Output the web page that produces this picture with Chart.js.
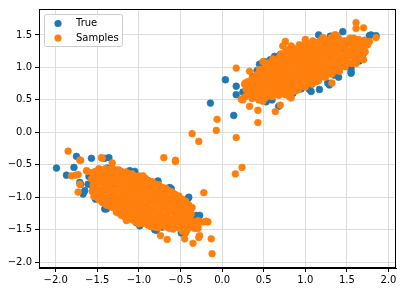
<!DOCTYPE html>
<html>
<head>
<meta charset="utf-8">
<script src="https://cdn.jsdelivr.net/npm/chart.js@4"></script>
<style>
  html, body { margin: 0; padding: 0; background: #fff; }
  canvas { display: block; }
</style>
</head>
<body>
<canvas id="scatterChart" width="404" height="292" style="width:404px;height:292px"></canvas>
<script>
// Values, as [x, y]
const trueUpper = [
    [0.04,0.81],[-0.14,0.45],[0.14,0.26],[0.17,0.58],[0.17,0.71],[0.37,0.86],[0.45,1.05],[0.51,1.09],
    [0.63,1.17],[0.53,0.47],[0.68,0.40],[0.95,0.67],[1.05,0.66],[1.07,0.63],[1.17,0.66],[1.27,0.76],
    [1.29,0.73],[1.55,0.91],[1.55,0.99],[1.55,0.94],[1.61,1.24],[1.16,1.50],[1.45,1.55],[1.79,1.50],
    [1.85,1.49],[1.77,1.49],[0.25,0.62],[0.30,0.75],[0.42,0.95],[0.58,1.12],[0.70,1.20],[0.40,0.55],
    [0.60,0.50],[0.85,0.60],[1.40,0.85],[1.65,1.10],[1.70,1.35],[1.30,1.48],[1.00,1.35],[0.85,1.28],
    [0.35,0.70],[0.45,0.78],[0.50,0.65],[0.55,0.85],[0.60,0.72],[0.65,0.95],[0.70,0.80],[0.72,0.62],
    [0.75,1.00],[0.80,0.88],[0.82,0.72],[0.88,1.05],[0.90,0.90],[0.92,0.78],[0.95,1.15],[0.98,0.98],
    [1.00,0.85],[1.02,1.22],[1.05,1.05],[1.08,0.92],[1.10,1.30],[1.12,1.12],[1.15,0.98],[1.18,1.38],
    [1.20,1.20],[1.22,1.05],[1.25,0.90],[1.28,1.28],[1.30,1.12],[1.32,1.00],[1.35,1.40],[1.38,1.22],
    [1.40,1.08],[1.45,1.30],[1.48,1.15],[1.50,1.02],[1.55,1.38],[1.58,1.20],[1.62,1.42],[1.65,1.30],
    [1.70,1.22],[1.75,1.40],[0.55,0.58],[0.65,0.68],[0.78,0.78],[0.40,0.68],[0.48,0.90],[0.62,1.02],
    [1.12,0.80],[1.35,0.88]
];
const trueLower = [
    [-1.99,-0.55],[-1.75,-0.37],[-1.57,-0.40],[-1.78,-0.54],[-1.36,-0.39],[-1.41,-0.40],[-1.87,-0.66],
    [-1.70,-0.80],[-1.67,-0.95],[-1.71,-0.77],[-1.65,-0.90],[-1.61,-0.80],[-1.05,-0.60],[-1.11,-0.59],
    [-0.77,-0.75],[-0.63,-0.85],[-0.61,-0.87],[-0.40,-1.00],[-0.41,-1.02],[-0.31,-1.28],[-0.27,-1.28],
    [-0.475,-1.39],[-0.49,-1.38],[-0.59,-1.44],[-0.81,-1.50],[-0.79,-1.51],[-0.99,-1.44],[-1.03,-1.39],
    [-1.15,-1.28],[-1.39,-1.18],[-1.41,-1.18],[-1.52,-1.03],[-0.49,-1.55],
    [-1.50,-0.60],[-1.45,-0.75],[-1.40,-0.90],[-1.35,-1.05],[-1.30,-0.65],[-1.25,-0.80],[-1.20,-0.95],
    [-1.18,-1.15],[-1.12,-0.70],[-1.08,-0.88],[-1.05,-1.05],[-1.02,-1.22],[-0.98,-0.80],[-0.95,-0.98],
    [-0.92,-1.15],[-0.90,-1.32],[-0.86,-0.88],[-0.82,-1.05],[-0.80,-1.22],[-0.78,-1.38],[-0.74,-0.95],
    [-0.70,-1.12],[-0.68,-1.28],[-0.65,-1.42],[-0.60,-1.02],[-0.56,-1.20],[-0.54,-1.34],[-0.50,-1.10],
    [-0.46,-1.25],[-0.40,-1.15],[-0.36,-1.35],[-1.55,-0.85],[-1.48,-0.98],[-1.60,-0.68],[-1.38,-0.55],
    [-1.22,-0.60],[-1.28,-1.12],[-1.10,-1.30],[-0.96,-1.38],[-0.72,-1.46],[-0.58,-0.95],[-0.88,-0.75],
    [-1.15,-1.02],[-1.32,-0.85],[-0.66,-0.90]
];
const sampleUpper = [
    [0.17,0.99],[-0.06,0.20],[-0.07,0.03],[-0.36,-0.02],[-0.28,-0.14],[0.17,-0.08],[0.43,0.34],[0.43,0.15],
    [0.64,0.32],[0.70,0.42],[0.33,0.40],[0.23,0.51],[0.28,0.76],[1.61,1.69],[1.70,1.61],[1.85,1.46],
    [1.70,1.12],[1.61,1.06],[1.75,1.35],[0.76,1.40],[0.73,1.33],[1.00,1.43],[1.21,1.46],[1.35,1.50],
    [0.93,1.33],[0.83,1.33],[0.78,1.24],[1.32,0.76],[0.89,0.64],[0.83,0.53],[1.37,1.50],[1.61,1.60],
    [0.49,1.09],[0.33,0.94],[0.25,0.50],[0.49,0.48],[0.81,0.55],[1.13,0.78],[1.41,0.94],[1.61,1.09],
    [1.69,1.14],[1.77,1.40],
    [0.28,0.55],[0.29,0.66],[0.27,0.74],
    [0.36,0.52],[0.35,0.63],[0.37,0.71],[0.36,0.83],
    [0.44,0.50],[0.43,0.61],[0.45,0.70],[0.44,0.81],[0.42,0.89],[0.45,0.97],
    [0.52,0.53],[0.53,0.62],[0.51,0.73],[0.52,0.82],[0.54,0.93],[0.52,1.02],
    [0.60,0.55],[0.61,0.66],[0.59,0.75],[0.60,0.86],[0.62,0.95],[0.60,1.05],[0.61,1.13],
    [0.68,0.57],[0.69,0.66],[0.67,0.77],[0.68,0.86],[0.70,0.97],[0.68,1.06],[0.69,1.16],
    [0.76,0.58],[0.77,0.69],[0.75,0.78],[0.76,0.89],[0.78,0.98],[0.76,1.08],[0.75,1.18],[0.77,1.27],
    [0.84,0.62],[0.85,0.72],[0.83,0.83],[0.84,0.92],[0.86,1.03],[0.84,1.12],[0.83,1.22],[0.85,1.30],
    [0.92,0.66],[0.93,0.77],[0.91,0.86],[0.92,0.97],[0.94,1.06],[0.92,1.16],[0.91,1.26],[0.93,1.35],
    [1.00,0.70],[1.01,0.81],[0.99,0.90],[1.00,1.01],[1.02,1.10],[1.00,1.20],[0.99,1.30],[1.01,1.38],
    [1.08,0.74],[1.09,0.85],[1.07,0.94],[1.08,1.05],[1.10,1.14],[1.08,1.24],[1.07,1.34],[1.09,1.41],
    [1.16,0.80],[1.17,0.89],[1.15,1.00],[1.16,1.09],[1.18,1.19],[1.16,1.29],[1.15,1.39],
    [1.24,0.85],[1.25,0.94],[1.23,1.05],[1.24,1.14],[1.26,1.24],[1.24,1.34],[1.23,1.43],
    [1.32,0.90],[1.33,1.01],[1.31,1.10],[1.32,1.21],[1.34,1.30],[1.32,1.40],[1.31,1.46],
    [1.40,0.97],[1.41,1.06],[1.39,1.17],[1.40,1.26],[1.42,1.36],[1.40,1.45],
    [1.48,1.01],[1.49,1.12],[1.47,1.21],[1.48,1.32],[1.50,1.41],
    [1.56,1.06],[1.57,1.17],[1.55,1.26],[1.56,1.37],[1.58,1.45],
    [1.64,1.13],[1.65,1.24],[1.63,1.33],[1.64,1.43],
    [1.72,1.24],[1.73,1.34],[1.71,1.42],
    [0.32,0.58],[0.33,0.69],[0.31,0.78],
    [0.40,0.57],[0.41,0.66],[0.39,0.77],[0.40,0.86],
    [0.48,0.55],[0.49,0.66],[0.47,0.75],[0.48,0.87],[0.50,0.96],
    [0.56,0.57],[0.57,0.68],[0.55,0.77],[0.56,0.88],[0.58,0.97],[0.56,1.07],
    [0.64,0.60],[0.65,0.71],[0.63,0.80],[0.64,0.91],[0.66,1.00],[0.64,1.10],
    [0.72,0.62],[0.73,0.73],[0.71,0.82],[0.72,0.93],[0.74,1.02],[0.72,1.12],[0.71,1.21],
    [0.80,0.64],[0.81,0.75],[0.79,0.84],[0.80,0.95],[0.82,1.04],[0.80,1.14],[0.79,1.24],
    [0.88,0.68],[0.89,0.79],[0.87,0.88],[0.88,0.99],[0.90,1.08],[0.88,1.18],[0.87,1.28],
    [0.96,0.72],[0.97,0.83],[0.95,0.92],[0.96,1.03],[0.98,1.12],[0.96,1.22],[0.95,1.32],
    [1.04,0.76],[1.05,0.87],[1.03,0.96],[1.04,1.07],[1.06,1.16],[1.04,1.26],[1.03,1.36],
    [1.12,0.81],[1.13,0.91],[1.11,1.00],[1.12,1.11],[1.14,1.20],[1.12,1.30],[1.11,1.38],
    [1.20,0.86],[1.21,0.97],[1.19,1.06],[1.20,1.17],[1.22,1.26],[1.20,1.36],[1.19,1.42],
    [1.28,0.90],[1.29,1.01],[1.27,1.10],[1.28,1.21],[1.30,1.30],[1.28,1.40],
    [1.36,0.95],[1.37,1.06],[1.35,1.15],[1.36,1.26],[1.38,1.35],[1.36,1.44],
    [1.44,1.01],[1.45,1.12],[1.43,1.21],[1.44,1.32],[1.46,1.41],
    [1.52,1.07],[1.53,1.18],[1.51,1.27],[1.52,1.38],[1.54,1.45],
    [1.60,1.12],[1.61,1.23],[1.59,1.32],[1.60,1.42],
    [1.68,1.20],[1.69,1.31],[1.67,1.40]
];
const sampleLower = [
    [0.16,-0.64],[0.24,-0.54],[-1.85,-0.29],[-1.71,-0.43],[-1.70,-0.43],[-1.45,-0.39],[-1.44,-0.40],
    [-1.32,-0.47],[-1.81,-0.67],[-1.76,-0.66],[-1.73,-0.65],[-1.63,-0.59],[-1.62,-0.60],[-1.71,-0.80],
    [-1.73,-0.92],[-0.70,-0.39],[-0.56,-0.45],[-0.56,-0.43],[-0.22,-0.93],[-0.19,-1.37],[-0.22,-1.38],
    [-0.17,-1.38],[-0.13,-1.64],[-0.12,-1.87],[-0.28,-1.62],[-0.35,-1.71],[-0.45,-1.64],[-0.66,-1.65],
    [-0.74,-1.59],[-0.43,-1.51],[-0.29,-1.48],[-0.27,-1.59],[-0.95,-0.67],[-1.15,-1.36],[-1.27,-1.23],
    [-1.49,-0.98],
    [-1.56,-0.62],[-1.57,-0.72],[-1.55,-0.82],[-1.56,-0.91],[-1.54,-0.99],
    [-1.48,-0.56],[-1.49,-0.67],[-1.47,-0.76],[-1.48,-0.87],[-1.50,-0.96],[-1.48,-1.04],
    [-1.40,-0.56],[-1.41,-0.66],[-1.39,-0.77],[-1.40,-0.86],[-1.42,-0.97],[-1.40,-1.06],[-1.39,-1.12],
    [-1.32,-0.55],[-1.33,-0.66],[-1.31,-0.76],[-1.32,-0.87],[-1.34,-0.96],[-1.32,-1.07],[-1.31,-1.16],
    [-1.24,-0.58],[-1.25,-0.68],[-1.23,-0.79],[-1.24,-0.88],[-1.26,-0.99],[-1.24,-1.08],[-1.23,-1.18],[-1.25,-1.24],
    [-1.16,-0.61],[-1.17,-0.71],[-1.15,-0.82],[-1.16,-0.91],[-1.18,-1.02],[-1.16,-1.11],[-1.15,-1.21],[-1.17,-1.30],
    [-1.08,-0.64],[-1.09,-0.74],[-1.07,-0.85],[-1.08,-0.94],[-1.10,-1.05],[-1.08,-1.14],[-1.07,-1.24],[-1.09,-1.34],
    [-1.00,-0.67],[-1.01,-0.77],[-0.99,-0.88],[-1.00,-0.97],[-1.02,-1.08],[-1.00,-1.17],[-0.99,-1.27],[-1.01,-1.36],[-1.00,-1.41],
    [-0.92,-0.71],[-0.93,-0.81],[-0.91,-0.92],[-0.92,-1.01],[-0.94,-1.12],[-0.92,-1.21],[-0.91,-1.31],[-0.93,-1.40],
    [-0.84,-0.76],[-0.85,-0.86],[-0.83,-0.97],[-0.84,-1.06],[-0.86,-1.17],[-0.84,-1.26],[-0.83,-1.36],[-0.85,-1.45],
    [-0.76,-0.81],[-0.77,-0.91],[-0.75,-1.02],[-0.76,-1.11],[-0.78,-1.22],[-0.76,-1.31],[-0.75,-1.41],[-0.77,-1.47],
    [-0.68,-0.86],[-0.69,-0.96],[-0.67,-1.07],[-0.68,-1.16],[-0.70,-1.27],[-0.68,-1.36],[-0.67,-1.46],
    [-0.60,-0.92],[-0.61,-1.02],[-0.59,-1.13],[-0.60,-1.22],[-0.62,-1.33],[-0.60,-1.42],[-0.59,-1.49],
    [-0.52,-0.98],[-0.53,-1.08],[-0.51,-1.19],[-0.52,-1.28],[-0.54,-1.38],[-0.52,-1.47],
    [-0.44,-1.06],[-0.45,-1.16],[-0.43,-1.27],[-0.44,-1.36],[-0.46,-1.46],[-0.44,-1.55],
    [-0.36,-1.16],[-0.37,-1.26],[-0.35,-1.37],[-0.36,-1.46],
    [-0.29,-1.36],[-0.29,-1.44],
    [-1.52,-0.60],[-1.53,-0.71],[-1.51,-0.80],[-1.52,-0.91],[-1.50,-1.00],
    [-1.44,-0.58],[-1.45,-0.69],[-1.43,-0.78],[-1.44,-0.89],[-1.46,-0.98],[-1.44,-1.08],
    [-1.36,-0.58],[-1.37,-0.69],[-1.35,-0.78],[-1.36,-0.89],[-1.38,-0.98],[-1.36,-1.08],[-1.35,-1.14],
    [-1.28,-0.58],[-1.29,-0.69],[-1.27,-0.78],[-1.28,-0.89],[-1.30,-0.98],[-1.28,-1.08],[-1.27,-1.18],
    [-1.20,-0.62],[-1.21,-0.73],[-1.19,-0.82],[-1.20,-0.93],[-1.22,-1.02],[-1.20,-1.12],[-1.19,-1.22],[-1.21,-1.28],
    [-1.12,-0.64],[-1.13,-0.75],[-1.11,-0.84],[-1.12,-0.95],[-1.14,-1.04],[-1.12,-1.14],[-1.11,-1.24],[-1.13,-1.32],
    [-1.04,-0.68],[-1.05,-0.79],[-1.03,-0.88],[-1.04,-0.99],[-1.06,-1.08],[-1.04,-1.18],[-1.03,-1.28],[-1.05,-1.37],
    [-0.96,-0.72],[-0.97,-0.83],[-0.95,-0.92],[-0.96,-1.03],[-0.98,-1.12],[-0.96,-1.22],[-0.95,-1.32],[-0.97,-1.40],
    [-0.88,-0.76],[-0.89,-0.87],[-0.87,-0.96],[-0.88,-1.07],[-0.90,-1.16],[-0.88,-1.26],[-0.87,-1.36],[-0.89,-1.43],
    [-0.80,-0.80],[-0.81,-0.91],[-0.79,-1.00],[-0.80,-1.11],[-0.82,-1.20],[-0.80,-1.30],[-0.79,-1.40],[-0.81,-1.46],
    [-0.72,-0.85],[-0.73,-0.96],[-0.71,-1.05],[-0.72,-1.16],[-0.74,-1.25],[-0.72,-1.35],[-0.71,-1.44],
    [-0.64,-0.90],[-0.65,-1.01],[-0.63,-1.10],[-0.64,-1.21],[-0.66,-1.30],[-0.64,-1.40],[-0.63,-1.48],
    [-0.56,-0.96],[-0.57,-1.07],[-0.55,-1.16],[-0.56,-1.27],[-0.58,-1.36],[-0.56,-1.46],
    [-0.48,-1.03],[-0.49,-1.14],[-0.47,-1.23],[-0.48,-1.33],[-0.50,-1.43],[-0.48,-1.52],
    [-0.40,-1.12],[-0.41,-1.23],[-0.39,-1.32],[-0.40,-1.42],[-0.42,-1.50],
    [-0.32,-1.40],[-0.33,-1.48]
];
const xTicks = [-2.0, -1.5, -1.0, -0.5, 0.0, 0.5, 1.0, 1.5, 2.0];
const yTicks = [-2.0, -1.5, -1.0, -0.5, 0.0, 0.5, 1.0, 1.5];
const seriesNames = ['True', 'Samples'];
const seriesColors = ['#1f77b4', '#ff7f0e'];

const toPoints = (arr) => arr.map(p => ({ x: p[0], y: p[1] }));
const fmt = (v) => v.toFixed(1).replace('-', '\u2212');
const font = { family: 'DejaVu Sans', size: 10 };

// axes frame (all four spines) and a matplotlib-like legend box
const framePlugin = {
    id: 'frame',
    afterDraw(chart) {
        const ctx = chart.ctx;
        const a = chart.chartArea;
        ctx.save();
        ctx.strokeStyle = '#000';
        ctx.lineWidth = 1;
        ctx.strokeRect(a.left + 0.5, a.top + 0.5, a.right - a.left - 1, a.bottom - a.top - 1);

        const bx = a.left + 5.5, by = a.top + 5.5, bw = 78, bh = 32;
        ctx.fillStyle = 'rgba(255,255,255,0.8)';
        ctx.strokeStyle = '#cccccc';
        ctx.beginPath();
        ctx.roundRect(bx, by, bw, bh, 2);
        ctx.fill();
        ctx.stroke();
        ctx.font = '10px "DejaVu Sans"';
        ctx.textBaseline = 'middle';
        seriesNames.forEach((name, i) => {
            const cy = by + 9 + i * 14.6;
            ctx.fillStyle = seriesColors[i];
            ctx.beginPath();
            ctx.arc(bx + 13.5, cy, 3.6, 0, Math.PI * 2);
            ctx.fill();
            ctx.fillStyle = '#000';
            ctx.fillText(name, bx + 31.5, cy);
        });
        ctx.restore();
    }
};

new Chart(document.getElementById('scatterChart').getContext('2d'), {
    type: 'scatter',
    data: {
        datasets: [{
            label: seriesNames[0],
            data: toPoints(trueUpper.concat(trueLower)),
            backgroundColor: seriesColors[0],
            borderColor: seriesColors[0],
            order: 2
        }, {
            label: seriesNames[1],
            data: toPoints(sampleUpper.concat(sampleLower)),
            backgroundColor: seriesColors[1],
            borderColor: seriesColors[1],
            order: 1
        }]
    },
    options: {
        responsive: false,
        animation: false,
        devicePixelRatio: 1,
        layout: { padding: { top: 7, right: 8, left: 0, bottom: 0 } },
        elements: { point: { radius: 3.4, borderWidth: 0.6, hoverRadius: 3.4 } },
        plugins: { legend: { display: false }, tooltip: { enabled: false } },
        scales: {
            x: {
                type: 'linear',
                min: -2.2,
                max: 2.09,
                afterBuildTicks: (s) => { s.ticks = xTicks.map(v => ({ value: v })); },
                afterFit: (s) => { s.height = 24; },
                ticks: { callback: fmt, color: '#000', font: font, padding: 2, maxRotation: 0, autoSkip: false },
                grid: { color: '#dddddd', tickColor: '#000', tickLength: 4, lineWidth: 1 },
                border: { color: '#000' }
            },
            y: {
                type: 'linear',
                min: -2.09,
                max: 1.9,
                afterBuildTicks: (s) => { s.ticks = yTicks.map(v => ({ value: v })); },
                afterFit: (s) => { s.width = 39; },
                ticks: { callback: fmt, color: '#000', font: font, padding: 3, autoSkip: false },
                grid: { color: '#dddddd', tickColor: '#000', tickLength: 4, lineWidth: 1 },
                border: { color: '#000' }
            }
        }
    },
    plugins: [framePlugin]
});
</script>
</body>
</html>
